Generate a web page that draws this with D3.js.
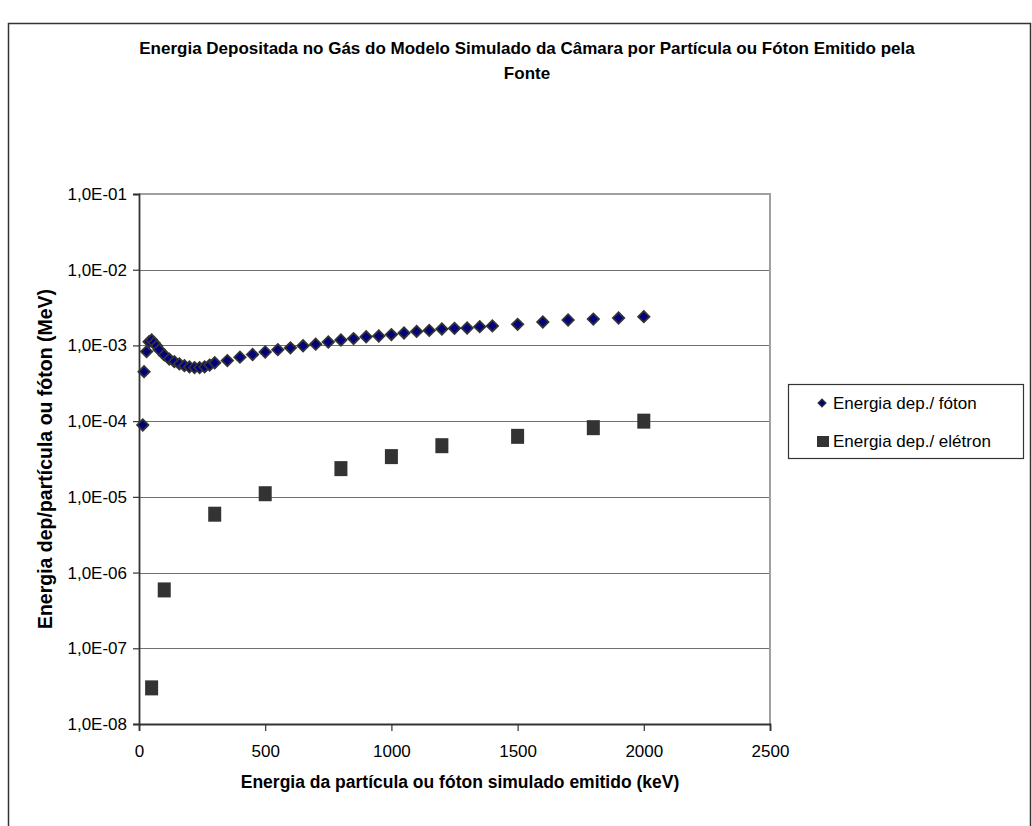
<!DOCTYPE html>
<html>
<head>
<meta charset="utf-8">
<script src="https://cdn.jsdelivr.net/npm/d3@7"></script>
<style>
  body { margin: 0; background: #fff; }
  svg { display: block; font-family: "Liberation Sans", Arial, sans-serif; }
</style>
</head>
<body>
<div id="chart"></div>
<script>
// energies in keV
const fotonEnergia = [15, 20, 30, 40, 50, 60, 70, 80, 100, 120, 140, 160, 180, 200, 220, 240, 260, 280, 300,
  350, 400, 450, 500, 550, 600, 650, 700, 750, 800, 850, 900, 950, 1000, 1050, 1100, 1150, 1200, 1250,
  1300, 1350, 1400, 1500, 1600, 1700, 1800, 1900, 2000];
// deposited energy per photon, MeV
const fotonDep = [8.9e-5, 4.5e-4, 8.3e-4, 1.12e-3, 1.18e-3, 1.08e-3, 9.8e-4, 8.8e-4, 7.5e-4, 6.6e-4, 6.1e-4,
  5.7e-4, 5.4e-4, 5.2e-4, 5.1e-4, 5.1e-4, 5.2e-4, 5.5e-4, 5.9e-4,
  6.3e-4, 7.0e-4, 7.6e-4, 8.2e-4, 8.8e-4, 9.3e-4, 9.9e-4, 1.04e-3, 1.11e-3, 1.18e-3, 1.23e-3, 1.30e-3,
  1.33e-3, 1.39e-3, 1.46e-3, 1.53e-3, 1.58e-3, 1.65e-3, 1.68e-3, 1.70e-3, 1.77e-3, 1.81e-3,
  1.90e-3, 2.04e-3, 2.17e-3, 2.23e-3, 2.30e-3, 2.40e-3];

const eletronEnergia = [50, 100, 300, 500, 800, 1000, 1200, 1500, 1800, 2000];
const eletronDep = [3.0e-8, 5.9e-7, 5.9e-6, 1.1e-5, 2.36e-5, 3.4e-5, 4.74e-5, 6.3e-5, 8.2e-5, 1.0e-4];

const xTicks = [0, 500, 1000, 1500, 2000, 2500];
const yTicks = [1e-1, 1e-2, 1e-3, 1e-4, 1e-5, 1e-6, 1e-7, 1e-8];

const titleLines = [
  "Energia Depositada no Gás do Modelo Simulado da Câmara por Partícula ou Fóton Emitido pela",
  "Fonte"
];
const xTitle = "Energia da partícula ou fóton simulado emitido (keV)";
const yTitle = "Energia dep/partícula ou fóton (MeV)";
const legendNames = ["Energia dep./ fóton", "Energia dep./ elétron"];

//#region Setup
const width = 1032, height = 826;
const plot = { left: 139, right: 770, top: 194, bottom: 724 };

const svg = d3.select("#chart").append("svg")
  .attr("width", width)
  .attr("height", height);

svg.append("rect")
  .attr("x", 8.5).attr("y", 23.5)
  .attr("width", 1022).attr("height", 820)
  .attr("fill", "#fff")
  .attr("stroke", "#333")
  .attr("stroke-width", 1.5);
//#endregion

//#region Scales
const scaleX = d3.scaleLinear().domain([0, 2500]).range([plot.left, plot.right]);
const scaleY = d3.scaleLog().domain([1e-8, 1e-1]).range([plot.bottom, plot.top]);
const fmtY = d => "1,0E-" + String(-Math.round(Math.log10(d))).padStart(2, "0");
//#endregion

//#region Gridlines and plot frame
svg.append("g")
  .selectAll("line")
  .data(yTicks.filter(d => d > 1e-8 && d < 1e-1))
  .join("line")
  .attr("x1", plot.left).attr("x2", plot.right)
  .attr("y1", d => Math.round(scaleY(d)) + 0.5)
  .attr("y2", d => Math.round(scaleY(d)) + 0.5)
  .attr("stroke", "#707070")
  .attr("stroke-width", 1.2);

// plot area border (top + right), lighter grey
svg.append("path")
  .attr("d", `M${plot.left},${plot.top} H${plot.right} V${plot.bottom}`)
  .attr("fill", "none")
  .attr("stroke", "#a0a0a0")
  .attr("stroke-width", 2);
//#endregion

//#region Axes
const xAxis = d3.axisBottom(scaleX).tickValues(xTicks).tickFormat(d3.format("d")).tickSize(7).tickPadding(14);
const yAxis = d3.axisLeft(scaleY).tickValues(yTicks).tickFormat(fmtY).tickSize(6).tickPadding(6);

const gx = svg.append("g")
  .attr("transform", `translate(0, ${plot.bottom})`)
  .call(xAxis);
const gy = svg.append("g")
  .attr("transform", `translate(${plot.left}, 0)`)
  .call(yAxis);

[gx, gy].forEach(g => {
  g.select(".domain").attr("stroke", "#333").attr("stroke-width", 1.8);
  g.selectAll(".tick line").attr("stroke", "#333").attr("stroke-width", 1.2);
  g.selectAll(".tick text")
    .attr("fill", "#000")
    .style("font-size", "17px")
    .style("font-family", "'Liberation Sans', Arial, sans-serif");
});
//#endregion

//#region Markers
const diamond = d3.symbol().type(d3.symbolSquare).size(64);

svg.append("g")
  .selectAll("path")
  .data(d3.zip(fotonEnergia, fotonDep))
  .join("path")
  .attr("d", diamond)
  .attr("transform", d => `translate(${scaleX(d[0])}, ${scaleY(d[1])}) rotate(45)`)
  .attr("fill", "#000080")
  .attr("stroke", "#333")
  .attr("stroke-width", 1.8);

svg.append("g")
  .selectAll("rect")
  .data(d3.zip(eletronEnergia, eletronDep))
  .join("rect")
  .attr("x", d => scaleX(d[0]) - 6.5)
  .attr("y", d => scaleY(d[1]) - 7.5)
  .attr("width", 13)
  .attr("height", 15)
  .attr("fill", "#333");
//#endregion

//#region Titles
svg.append("g")
  .selectAll("text")
  .data(titleLines)
  .join("text")
  .attr("x", 527)
  .attr("y", (d, i) => 48 + i * 25)
  .attr("text-anchor", "middle")
  .attr("dominant-baseline", "central")
  .style("font-size", "17px")
  .style("font-weight", "bold")
  .text(d => d);

svg.append("text")
  .attr("x", 460)
  .attr("y", 782)
  .attr("text-anchor", "middle")
  .attr("dominant-baseline", "central")
  .style("font-size", "17.5px")
  .style("font-weight", "bold")
  .text(xTitle);

svg.append("text")
  .attr("transform", `translate(45, ${(plot.top + plot.bottom) / 2}) rotate(-90)`)
  .attr("text-anchor", "middle")
  .attr("dominant-baseline", "central")
  .style("font-size", "19.5px")
  .style("font-weight", "bold")
  .text(yTitle);
//#endregion

//#region Legend
const legend = svg.append("g").attr("transform", "translate(788, 384)");
legend.append("rect")
  .attr("x", 0.5).attr("y", 0.5)
  .attr("width", 235).attr("height", 74)
  .attr("fill", "#fff")
  .attr("stroke", "#333")
  .attr("stroke-width", 1.2);

legend.append("path")
  .attr("d", d3.symbol().type(d3.symbolSquare).size(30))
  .attr("transform", "translate(34, 19) rotate(45)")
  .attr("fill", "#000080")
  .attr("stroke", "#333")
  .attr("stroke-width", 1.3);

legend.append("rect")
  .attr("x", 29).attr("y", 52)
  .attr("width", 12).attr("height", 11)
  .attr("fill", "#333");

legend.selectAll("text.name")
  .data(legendNames)
  .join("text")
  .attr("class", "name")
  .attr("x", 45)
  .attr("y", (d, i) => 19 + i * 38)
  .attr("dominant-baseline", "central")
  .style("font-size", "17px")
  .text(d => d);
//#endregion
</script>
</body>
</html>
